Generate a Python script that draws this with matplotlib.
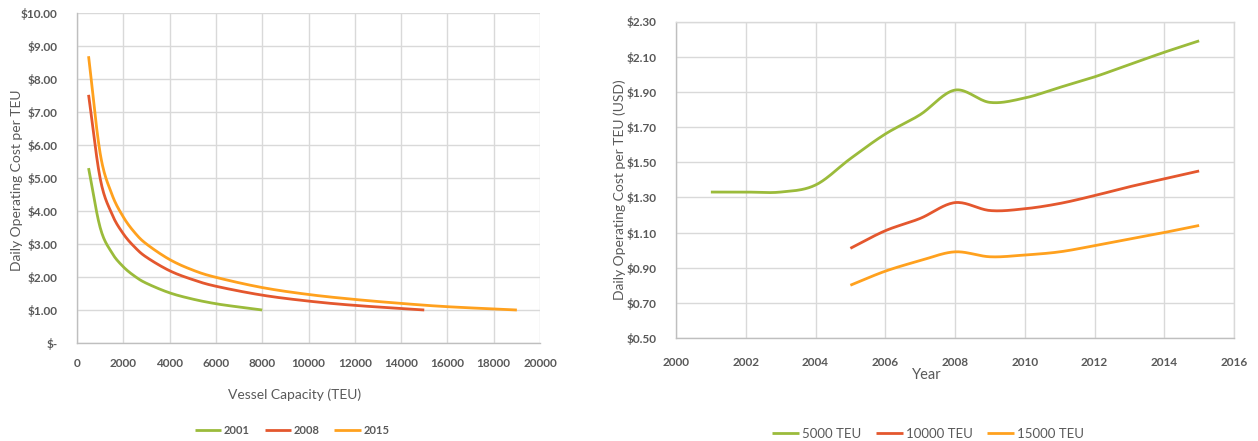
import numpy as np
import matplotlib.pyplot as plt
from matplotlib.ticker import FuncFormatter

# vessel capacity (TEU) vs daily operating cost per TEU
cap_2001 = [500, 1000, 1500, 2000, 2500, 3000, 4000, 5000, 6000, 7000, 8000]
cost_2001 = [5.30, 3.50, 2.74, 2.31, 2.02, 1.81, 1.52, 1.33, 1.19, 1.09, 1.00]

cap_2008 = [500, 1000, 1500, 2000, 2500, 3000, 4000, 5000, 6000, 8000, 10000, 12000, 15000]
cost_2008 = [7.52, 4.99, 3.92, 3.31, 2.90, 2.60, 2.19, 1.92, 1.72, 1.45, 1.27, 1.14, 1.00]

cap_2015 = [500, 1000, 1500, 2000, 2500, 3000, 4000, 5000, 6000, 8000, 10000, 12000, 14000, 16000, 19000]
cost_2015 = [8.69, 5.75, 4.52, 3.82, 3.34, 3.00, 2.53, 2.21, 1.99, 1.68, 1.47, 1.32, 1.20, 1.10, 1.00]

# cost per TEU by year for three vessel sizes
years_5000 = [2001, 2002, 2003, 2004, 2005, 2006, 2007, 2008, 2009, 2010, 2011, 2012, 2013, 2014, 2015]
teu_5000 = [1.33, 1.33, 1.33, 1.37, 1.52, 1.66, 1.77, 1.91, 1.84, 1.865, 1.925, 1.985, 2.055, 2.125, 2.19]

years_big = [2005, 2006, 2007, 2008, 2009, 2010, 2011, 2012, 2013, 2014, 2015]
teu_10000 = [1.01, 1.11, 1.18, 1.27, 1.225, 1.235, 1.265, 1.31, 1.36, 1.405, 1.45]
teu_15000 = [0.80, 0.88, 0.94, 0.99, 0.962, 0.972, 0.99, 1.025, 1.063, 1.10, 1.14]

GREEN = '#9BBB3B'
RED = '#E4572E'
ORANGE = '#FFA11E'
TXT = '#595959'
GRID = '#D9D9D9'


def smooth(x, y, n=20):
    # Catmull-Rom spline through the points, like Excel's smoothed line
    p = np.column_stack([x, y]).astype(float)
    p = np.vstack([2 * p[0] - p[1], p, 2 * p[-1] - p[-2]])
    out = []
    t = np.linspace(0, 1, n, endpoint=False)[:, None]
    for i in range(1, len(p) - 2):
        p0, p1, p2, p3 = p[i - 1], p[i], p[i + 1], p[i + 2]
        seg = 0.5 * (2 * p1 + (-p0 + p2) * t + (2 * p0 - 5 * p1 + 4 * p2 - p3) * t ** 2
                     + (-p0 + 3 * p1 - 3 * p2 + p3) * t ** 3)
        out.append(seg)
    out.append(p[-2][None, :])
    s = np.vstack(out)
    return s[:, 0], s[:, 1]


plt.rcParams['font.family'] = ['Lato', 'DejaVu Sans']

W, H = 1258, 441
fig = plt.figure(figsize=(W / 100, H / 100), dpi=100)

# left panel
ax1 = fig.add_axes([77 / W, 1 - 343 / H, 463 / W, 330 / H])
lines1 = []
for xs, ys, c, lab in [(cap_2001, cost_2001, GREEN, '2001'),
                       (cap_2008, cost_2008, RED, '2008'),
                       (cap_2015, cost_2015, ORANGE, '2015')]:
    sx, sy = smooth(xs, ys)
    lines1 += ax1.plot(sx, sy, color=c, lw=2, label=lab, solid_capstyle='butt')
ax1.set_xlim(0, 20000)
ax1.set_ylim(0, 10)
ax1.set_xticks(range(0, 20001, 2000))
ax1.set_yticks(range(0, 11))
ax1.yaxis.set_major_formatter(FuncFormatter(lambda v, p: '$-' if v == 0 else f'${v:.2f}'))
fig.text(295 / W, 1 - 395 / H, 'Vessel Capacity (TEU)', color=TXT, fontsize=10,
         ha='center', va='center')
fig.text(17 / W, 1 - 180 / H, 'Daily Operating Cost per TEU', color=TXT, fontsize=10,
         rotation=90, ha='center', va='center')
fig.legend(handles=lines1, loc='center', bbox_to_anchor=(292 / W, 1 - 430 / H), ncol=3,
           frameon=False, labelcolor=TXT, handlelength=2.4, handletextpad=0.2,
           columnspacing=1.35, prop={'weight': 'bold', 'size': 8})

# right panel
ax2 = fig.add_axes([676 / W, 1 - 338 / H, 558 / W, 316.5 / H])
lines2 = []
for xs, ys, c, lab in [(years_5000, teu_5000, GREEN, '5000 TEU'),
                       (years_big, teu_10000, RED, '10000 TEU'),
                       (years_big, teu_15000, ORANGE, '15000 TEU')]:
    sx, sy = smooth(xs, ys)
    lines2 += ax2.plot(sx, sy, color=c, lw=2, label=lab, solid_capstyle='butt')
ax2.set_xlim(2000, 2016)
ax2.set_ylim(0.5, 2.3)
ax2.set_xticks(range(2000, 2017, 2))
ax2.set_yticks(np.arange(0.5, 2.31, 0.2))
ax2.yaxis.set_major_formatter(FuncFormatter(lambda v, p: f'${v:.2f}'))
fig.text(927 / W, 1 - 375 / H, 'Year', color=TXT, fontsize=10.5, ha='center', va='center')
fig.text(620 / W, 1 - 190 / H, 'Daily Operating Cost per TEU (USD)', color=TXT, fontsize=10,
         rotation=90, ha='center', va='center')
fig.legend(handles=lines2, loc='center', bbox_to_anchor=(928 / W, 1 - 434 / H), ncol=3,
           frameon=False, labelcolor=TXT, handlelength=2.05, handletextpad=0.2,
           columnspacing=1.1, fontsize=9.5)

for ax in (ax1, ax2):
    ax.grid(True, color=GRID, lw=1)
    ax.set_axisbelow(True)
    ax.tick_params(length=0, labelcolor=TXT, labelsize=8.5)
    ax.tick_params(axis='y', pad=14)
    for lbl in ax.get_xticklabels() + ax.get_yticklabels():
        lbl.set_fontweight('bold')
    for s in ax.spines.values():
        s.set_color(GRID)
        s.set_linewidth(1)
ax1.spines['top'].set_visible(False)
ax1.spines['right'].set_visible(False)
ax1.spines['left'].set_color('#BFBFBF')
ax1.spines['bottom'].set_color('#BFBFBF')
ax2.spines['left'].set_color('#BFBFBF')
ax2.spines['bottom'].set_color('#BFBFBF')
ax1.tick_params(axis='x', pad=11)
ax2.tick_params(axis='x', pad=14)

fig.savefig('out.png', dpi=100)
